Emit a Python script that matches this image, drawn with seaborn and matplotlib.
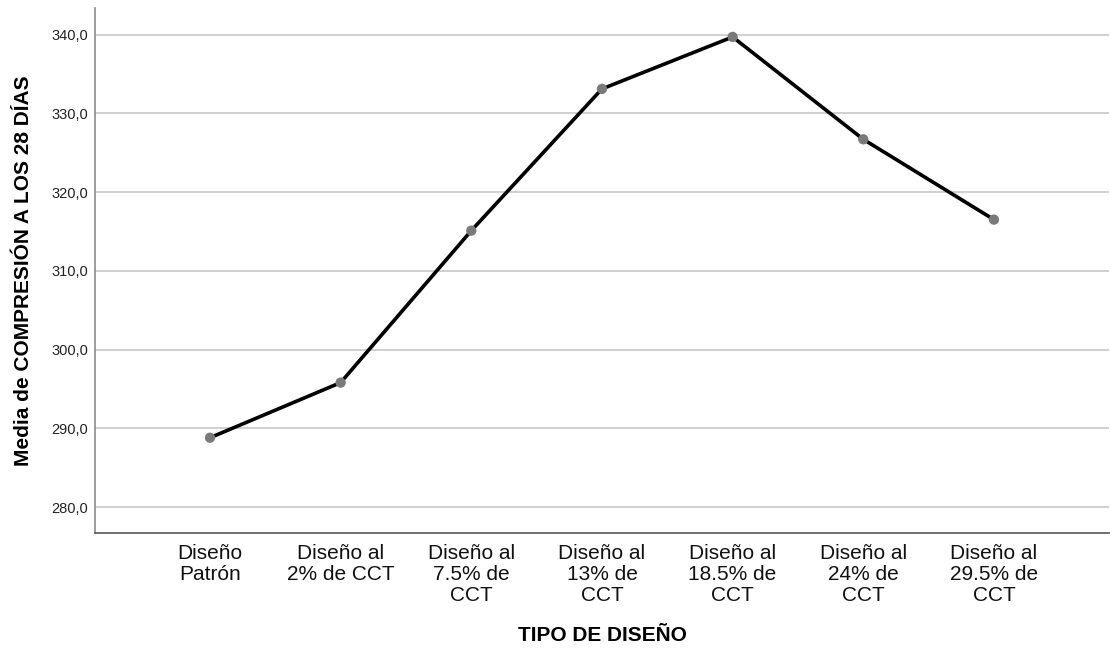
import matplotlib
matplotlib.use("Agg")
import matplotlib.pyplot as plt
import seaborn as sns
import pandas as pd

# data
categorias = ["Diseño\nPatrón", "Diseño al\n2% de CCT", "Diseño al\n7.5% de\nCCT",
              "Diseño al\n13% de\nCCT", "Diseño al\n18.5% de\nCCT", "Diseño al\n24% de\nCCT",
              "Diseño al\n29.5% de\nCCT"]
medias = [288.8, 295.8, 315.1, 333.1, 339.7, 326.7, 316.5]
yticks = [280, 290, 300, 310, 320, 330, 340]
ytick_labels = ["280,0", "290,0", "300,0", "310,0", "320,0", "330,0", "340,0"]

df = pd.DataFrame({"pos": range(len(categorias)), "media": medias})

sns.set_style("white")
plt.rcParams["font.family"] = ["Liberation Sans", "DejaVu Sans"]

fig = plt.figure(figsize=(11.1, 6.5), dpi=100)
ax = fig.add_axes([0.0856, 0.18, 0.9134, 0.808])

sns.lineplot(data=df, x="pos", y="media", color="black", linewidth=2.6, ax=ax, zorder=2)
sns.scatterplot(data=df, x="pos", y="media", color="#7a7a7a", s=55, edgecolor="none",
                ax=ax, zorder=3)

ax.set_xlim(-0.88, 6.88)
ax.set_ylim(276.7, 343.4)
ax.set_yticks(yticks)
ax.set_yticklabels(ytick_labels, fontsize=10.5, color="#222222")
ax.set_xticks(range(len(categorias)))
ax.set_xticklabels(categorias, fontsize=15, linespacing=1.12, va="top", color="#111111")
ax.tick_params(axis="both", length=0)
ax.tick_params(axis="y", pad=5)
ax.tick_params(axis="x", pad=8)

ax.yaxis.grid(True, color="#c8c8c8", linewidth=1.2)
ax.xaxis.grid(False)
ax.set_axisbelow(True)

for side in ["top", "right"]:
    ax.spines[side].set_visible(False)
ax.spines["left"].set_color("#8c8c8c")
ax.spines["bottom"].set_color("#555555")
ax.spines["left"].set_linewidth(1.2)
ax.spines["bottom"].set_linewidth(1.2)

ax.set_xlabel("TIPO DE DISEÑO", fontsize=15, fontweight="bold", color="black", labelpad=15)
ax.set_ylabel("Media de COMPRESIÓN A LOS 28 DÍAS", fontsize=15, fontweight="bold",
              color="black", labelpad=13)

fig.savefig("out.png", dpi=100)
